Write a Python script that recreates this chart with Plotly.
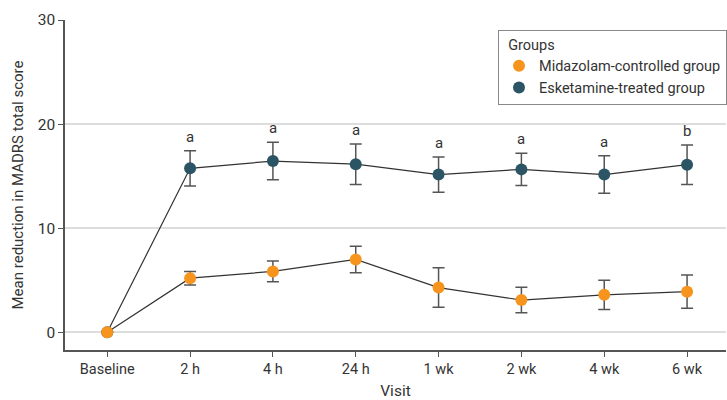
import plotly.graph_objects as go

visits = ["Baseline", "2 h", "4 h", "24 h", "1 wk", "2 wk", "4 wk", "6 wk"]
midazolam = [0, 5.2, 5.85, 7.0, 4.3, 3.1, 3.6, 3.9]
midazolam_err = [0, 0.65, 1.0, 1.27, 1.9, 1.23, 1.4, 1.6]
esketamine = [0, 15.75, 16.45, 16.15, 15.15, 15.65, 15.15, 16.1]
esketamine_err = [0, 1.7, 1.8, 1.95, 1.7, 1.55, 1.8, 1.9]
sig_labels = ["", "a", "a", "a", "a", "a", "a", "b"]

FONT = "Roboto, Open Sans, sans-serif"
ORANGE = "#F7941D"
TEAL = "#2B5564"

x_idx = list(range(len(visits)))

fig = go.Figure()
fig.add_trace(go.Scatter(
    x=x_idx, y=esketamine, name="Esketamine-treated group",
    mode="lines+markers", showlegend=False,
    line=dict(color="#333333", width=1.2),
    marker=dict(color=TEAL, size=12),
    error_y=dict(type="data", array=esketamine_err, visible=True,
                 color="#555555", thickness=1.5, width=6),
))
fig.add_trace(go.Scatter(
    x=x_idx, y=midazolam, name="Midazolam-controlled group",
    mode="lines+markers", showlegend=False,
    line=dict(color="#333333", width=1.2),
    marker=dict(color=ORANGE, size=12),
    error_y=dict(type="data", array=midazolam_err, visible=True,
                 color="#555555", thickness=1.5, width=6),
))
# legend entries (markers only)
fig.add_trace(go.Scatter(x=[None], y=[None], mode="markers",
                         name="Midazolam-controlled group",
                         marker=dict(color=ORANGE, size=12)))
fig.add_trace(go.Scatter(x=[None], y=[None], mode="markers",
                         name="Esketamine-treated group",
                         marker=dict(color=TEAL, size=12)))

for i, lab in enumerate(sig_labels):
    if lab:
        fig.add_annotation(x=i, y=esketamine[i] + esketamine_err[i],
                           text=lab, showarrow=False, yanchor="bottom",
                           yshift=3, font=dict(size=15, color="#333333", family=FONT))

fig.update_layout(
    width=727, height=400,
    margin=dict(l=64.5, r=0, t=20, b=50),
    plot_bgcolor="white", paper_bgcolor="white",
    font=dict(family=FONT, size=15, color="#333333"),
    showlegend=True,
    legend=dict(
        title=dict(text="&nbsp;&nbsp;Groups", font=dict(size=14.5)),
        x=0.655, y=0.97, xanchor="left", yanchor="top",
        bordercolor="#888888", borderwidth=1, bgcolor="white",
        traceorder="normal", font=dict(size=14.5),
        itemsizing="constant", tracegroupgap=0,
    ),
    xaxis=dict(
        range=[-0.51, 7.47], tickmode="array", tickvals=x_idx, ticktext=visits,
        showline=True, linecolor="#555555", linewidth=1.5,
        ticks="outside", ticklen=5, tickcolor="#555555",
        showgrid=False, zeroline=False,
        tickfont=dict(size=14.5),
        title=dict(text="Visit", font=dict(size=15.5), standoff=8),
    ),
    yaxis=dict(
        range=[-1.7, 30], tickvals=[0, 10, 20, 30],
        showline=True, linecolor="#555555", linewidth=1.5,
        ticks="outside", ticklen=5, tickcolor="#555555",
        showgrid=True, gridcolor="#dddddd", gridwidth=1.5, zeroline=False,
        tickfont=dict(size=15.5),
        title=dict(text="Mean reduction in MADRS total score", font=dict(size=15), standoff=10),
    ),
)

fig.write_html("out.html")
